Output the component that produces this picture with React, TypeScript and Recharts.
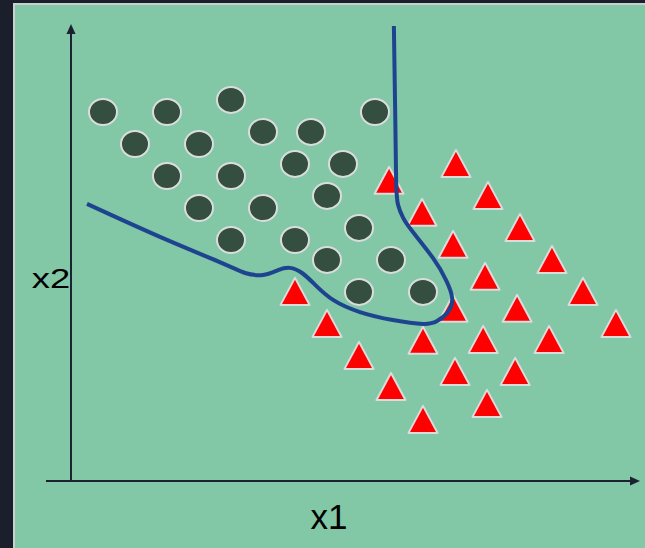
import { ScatterChart, Scatter, XAxis, YAxis, ReferenceLine } from 'recharts';

// class A (dark circles), x1 / x2 in grid units
const circleX1 = [1, 3, 5, 9.5, 2, 4, 6, 7.5, 3, 5, 7, 8.5, 4, 6, 8, 5, 7, 9, 8, 10, 9, 11];
const circleX2 = [11.53, 11.53, 11.91, 11.53, 10.53, 10.53, 10.91, 10.91, 9.53, 9.53, 9.91, 9.91, 8.53, 8.53, 8.91, 7.53, 7.53, 7.91, 6.91, 6.91, 5.91, 5.91];

// class B (red triangles)
const triX1 = [12.03, 9.94, 13.03, 10.97, 14.03, 11.94, 15.03, 12.94, 16, 7, 13.94, 11.94, 17.03, 8, 14.94, 12.88, 11, 9, 13.88, 12, 10, 13, 11];
const triX2 = [9.91, 9.38, 8.91, 8.38, 7.91, 7.38, 6.91, 6.38, 5.91, 5.91, 5.38, 5.38, 4.91, 4.91, 4.41, 4.41, 4.38, 3.91, 3.41, 3.41, 2.94, 2.41, 1.91];

// decision boundary, in drawing order
const boundaryX1 = [10.09, 10.13, 10.16, 10.22, 10.38, 10.66, 11.31, 11.72, 11.91, 11.78, 11.44, 11.0, 10.06, 9.03, 8.19, 7.63, 7.22, 6.84, 6.47, 6.0, 5.44, 4.72, 2.78, 0.5];
const boundaryX2 = [14.22, 11.59, 9.41, 8.63, 8.22, 7.81, 6.97, 6.28, 5.72, 5.28, 5.0, 4.91, 5.03, 5.28, 5.66, 6.13, 6.5, 6.66, 6.59, 6.44, 6.5, 6.81, 7.63, 8.66];

const xDomain = [-0.78125, 17.78125];
const yDomain = [0, 14.28125];

const circles = circleX1.map((x, i) => ({ x, y: circleX2[i] }));
const triangles = triX1.map((x, i) => ({ x, y: triX2[i] }));
const boundary = boundaryX1.map((x, i) => ({ x, y: boundaryX2[i] }));

const AXIS = '#1d2230';

const Circle = (props: any) => {
  const { cx, cy } = props;
  return <ellipse cx={cx} cy={cy} rx={14} ry={13} fill="#344f40" stroke="#dcdcdc" strokeWidth={2} />;
};

const Triangle = (props: any) => {
  const { cx, cy } = props;
  const pts = `${cx},${cy - 14} ${cx - 14.5},${cy + 13} ${cx + 14.5},${cy + 13}`;
  return <polygon points={pts} fill="#ff0000" stroke="#dcdcdc" strokeWidth={2} strokeLinejoin="round" />;
};

const Nothing = () => <g />;

// axis line with an arrow head at (x2, y2)
const Arrow = (props: any) => {
  const { x1, y1, x2, y2 } = props;
  const ang = Math.atan2(y2 - y1, x2 - x1);
  const len = 10;
  const half = 4.5;
  const bx = x2 - len * Math.cos(ang);
  const by = y2 - len * Math.sin(ang);
  const px = -Math.sin(ang) * half;
  const py = Math.cos(ang) * half;
  return (
    <g>
      <line x1={x1} y1={y1} x2={bx} y2={by} stroke={AXIS} strokeWidth={2} />
      <polygon points={`${x2},${y2} ${bx + px},${by + py} ${bx - px},${by - py}`} fill={AXIS} />
    </g>
  );
};

export default function App() {
  return (
    <div style={{ position: 'fixed', left: 0, top: 0, width: 645, height: 548, background: '#1b1f2b', overflow: 'hidden' }}>
      <div
        style={{
          position: 'absolute',
          left: 13,
          top: 3,
          right: 0,
          bottom: 0,
          background: '#82c7a6',
          borderLeft: '2px solid #c9d0cf',
          borderTop: '2px solid #c9d0cf',
        }}
      />
      <div style={{ position: 'absolute', left: 0, top: 0 }}>
        <ScatterChart width={645} height={548} margin={{ top: 24, right: 5, bottom: 67, left: 46 }}>
          <XAxis type="number" dataKey="x" domain={xDomain} hide allowDataOverflow />
          <YAxis type="number" dataKey="y" domain={yDomain} hide allowDataOverflow />
          <ReferenceLine
            segment={[{ x: 0, y: 0 }, { x: 0, y: yDomain[1] }]}
            ifOverflow="visible"
            shape={Arrow}
          />
          <ReferenceLine
            segment={[{ x: xDomain[0], y: 0 }, { x: xDomain[1], y: 0 }]}
            ifOverflow="visible"
            shape={Arrow}
          />
          <Scatter data={circles} shape={Circle} isAnimationActive={false} />
          <Scatter data={triangles} shape={Triangle} isAnimationActive={false} />
          <Scatter
            data={boundary}
            fill="#1e4490"
            shape={Nothing}
            line={{ stroke: '#1e4490', strokeWidth: 4 }}
            lineJointType="natural"
            isAnimationActive={false}
          />
        </ScatterChart>
      </div>
      <svg width={645} height={548} style={{ position: 'absolute', left: 0, top: 0, pointerEvents: 'none' }}>
        <text
          x={51}
          y={288}
          textAnchor="middle"
          fontFamily="'Liberation Sans', Arial, sans-serif"
          fontSize={28}
          fill="#000"
          transform="translate(51 0) scale(1.3 1) translate(-51 0)"
        >
          x2
        </text>
        <text x={329} y={529} textAnchor="middle" fontFamily="'Liberation Sans', Arial, sans-serif" fontSize={35} fill="#000">
          x1
        </text>
      </svg>
    </div>
  );
}
